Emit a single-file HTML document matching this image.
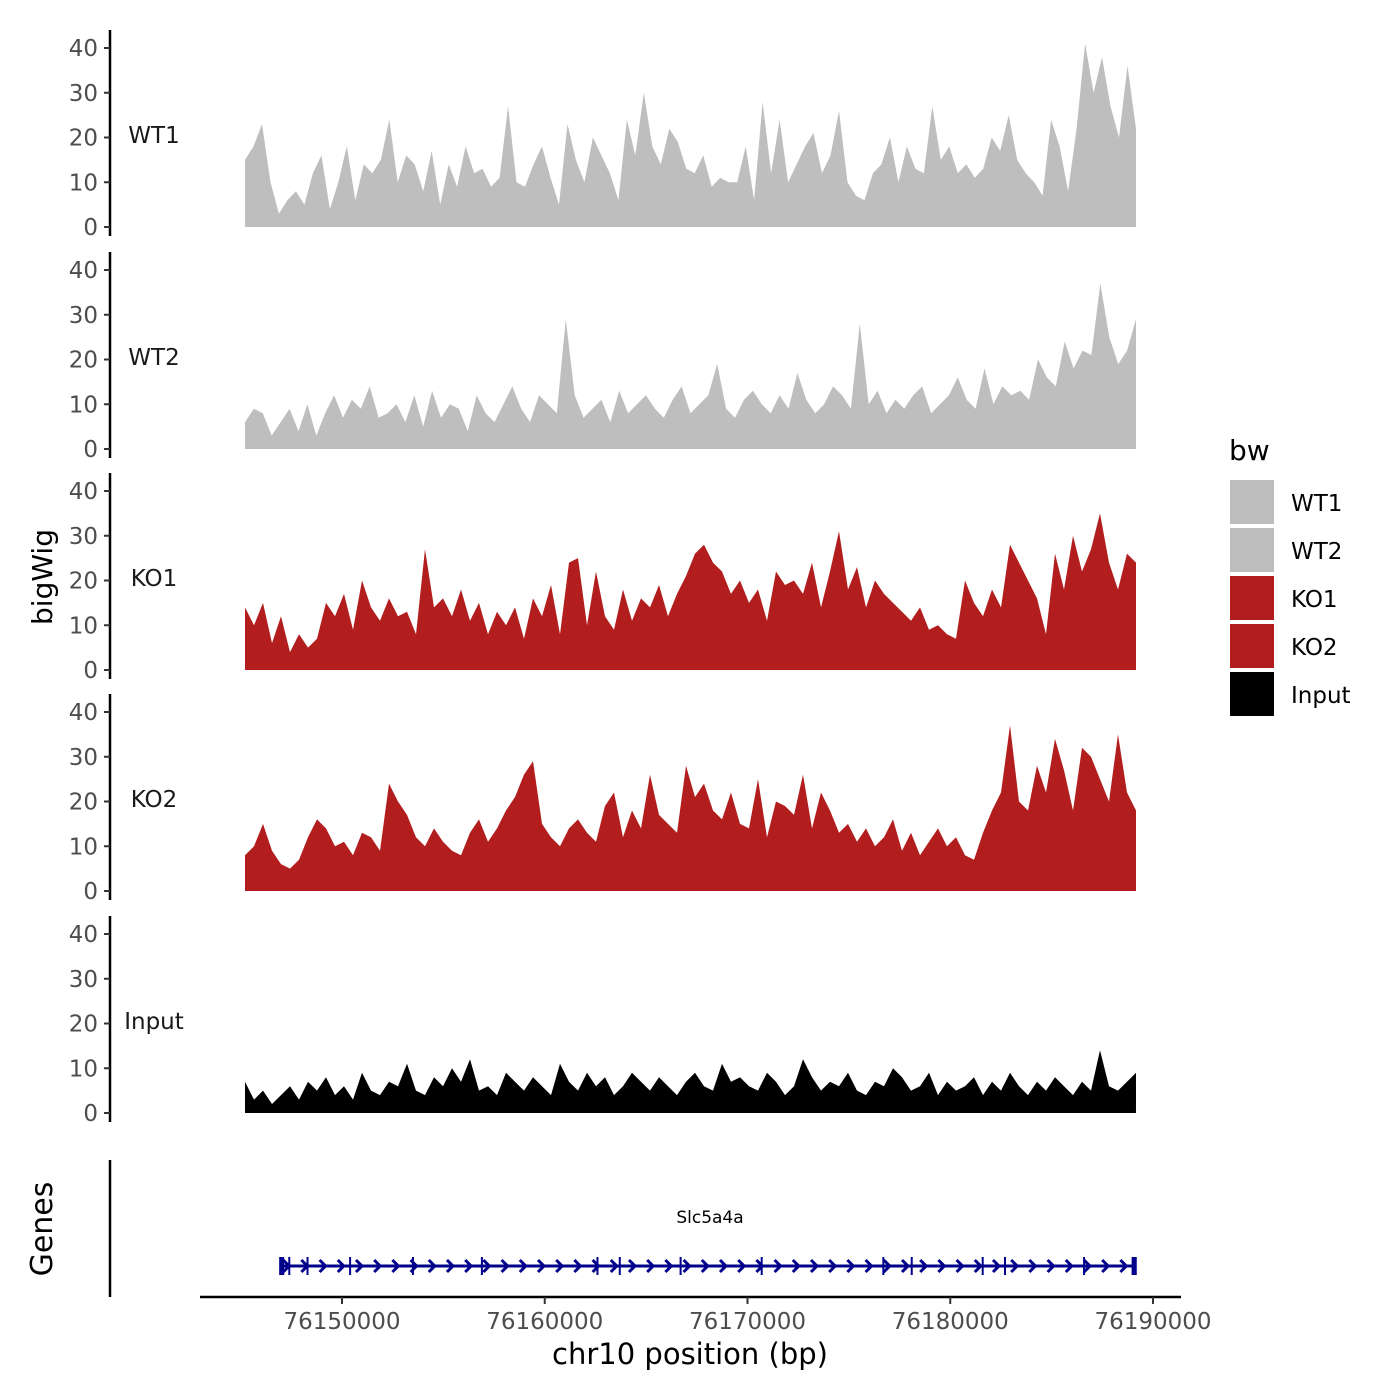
<!DOCTYPE html>
<html><head><meta charset="utf-8"><style>
body{margin:0;background:#fff;}
svg{display:block;font-family:"DejaVu Sans","Liberation Sans",sans-serif;}
</style></head><body>
<svg id="chart" width="1400" height="1400" viewBox="0 0 1400 1400" xmlns="http://www.w3.org/2000/svg">
<g id="tracks"></g>
<g id="genes"></g>
<g id="xaxis"></g>
<text x="52" y="577" font-size="28" text-anchor="middle" transform="rotate(-90 52 577)">bigWig</text>
<text x="52" y="1229" font-size="30" text-anchor="middle" transform="rotate(-90 52 1229)">Genes</text>
<text x="690" y="1364" font-size="29" text-anchor="middle">chr10 position (bp)</text>
<g id="legend"><text x="1229" y="460" font-size="28">bw</text></g>
</svg>
<script>
const trackNames = ["WT1","WT2","KO1","KO2","Input"];
const trackColors = ["#bebebe","#bebebe","#b21e1e","#b21e1e","#000000"];
const yTicks = [0,10,20,30,40];
const xTicks = [76150000,76160000,76170000,76180000,76190000];
const startBp = 76145216, endBp = 76189161;
const wt1 = [15,18,23,10,3,6,8,5,12,16,4,10,18,6,14,12,15,24,10,16,14,8,17,5,14,9,18,12,13,9,11,27,10,9,14,18,11,5,23,15,10,20,16,12,6,24,16,30,18,14,22,19,13,12,16,9,11,10,10,18,6,28,12,24,10,14,18,21,12,16,26,10,7,6,12,14,20,10,18,13,12,27,15,18,12,14,11,13,20,17,25,15,12,10,7,24,18,8,22,41,30,38,27,20,36,22];
const wt2 = [6,9,8,3,6,9,4,10,3,8,12,7,11,9,14,7,8,10,6,12,5,13,7,10,9,4,12,8,6,10,14,9,6,12,10,8,29,12,7,9,11,6,13,8,10,12,9,7,11,14,8,10,12,19,9,7,11,13,10,8,12,9,17,11,8,10,14,12,9,28,10,13,8,11,9,12,14,8,10,12,16,11,9,18,10,14,12,13,11,20,16,14,24,18,22,21,37,25,19,22,29];
const ko1 = [14,10,15,6,12,4,8,5,7,15,12,17,9,20,14,11,16,12,13,8,27,14,16,12,18,11,15,8,13,10,14,7,16,12,19,8,24,25,10,22,12,9,18,11,16,14,19,12,17,21,26,28,24,22,17,20,15,18,11,22,19,20,17,24,14,22,31,18,23,14,20,17,15,13,11,14,9,10,8,7,20,15,12,18,14,28,24,20,16,8,26,18,30,22,27,35,24,18,26,24];
const ko2 = [8,10,15,9,6,5,7,12,16,14,10,11,8,13,12,9,24,20,17,12,10,14,11,9,8,13,16,11,14,18,21,26,29,15,12,10,14,16,13,11,19,22,12,18,14,26,17,15,13,28,21,24,18,16,22,15,14,25,12,20,19,17,26,14,22,18,13,15,11,14,10,12,16,9,13,8,11,14,10,12,8,7,13,18,22,37,20,18,28,22,34,27,18,32,30,25,20,35,22,18];
const inputv = [7,3,5,2,4,6,3,7,5,8,4,6,3,9,5,4,7,6,11,5,4,8,6,10,7,12,5,6,4,9,7,5,8,6,4,11,7,5,9,6,8,4,6,9,7,5,8,6,4,7,9,6,5,11,7,8,6,5,9,7,4,6,12,8,5,7,6,9,5,4,7,6,10,8,5,6,9,4,7,5,6,8,4,7,5,9,6,4,7,5,8,6,4,7,5,14,6,5,7,9];
const allData = [wt1,wt2,ko1,ko2,inputv];
const geneStart = 76147000, geneEnd = 76189100;
const exons = [76147400,76148300,76150400,76153500,76156900,76162600,76163700,76166700,76170700,76176700,76178100,76181600,76182700,76186600,76189000];

const NS="http://www.w3.org/2000/svg";
function mk(tag, attrs, parent){const e=document.createElementNS(NS,tag);for(const k in attrs)e.setAttribute(k,attrs[k]);parent.appendChild(e);return e;}
function xScale(bp){return 342+(bp-76150000)*202.75/10000;}
const zeroY=[227,449,670,891,1113];
function yScale(t,v){return zeroY[t]-v*4.475;}

const tracks=document.getElementById('tracks');
trackNames.forEach((nm,t)=>{
  const g=mk('g',{},tracks);
  
  
  const axis=mk('line',{x1:110,x2:110,y1:zeroY[t]-197,y2:zeroY[t]+9,stroke:'#000','stroke-width':2.5},g);
  
  
  yTicks.forEach(v=>{
    const y=yScale(t,v);
    mk('line',{x1:104,x2:110,y1:y,y2:y,stroke:'#333','stroke-width':2},g);
    const tx=mk('text',{x:98,y:y+8,'font-size':23,'text-anchor':'end',fill:'#4d4d4d'},g);
    tx.textContent=v;
    
    
  });
  const lb=mk('text',{x:154,y:zeroY[t]-84,'font-size':23,'text-anchor':'middle',fill:'#1a1a1a'},g);
  lb.textContent=nm;
  
  
  const d=allData[t];const n=d.length;
  let p='M'+xScale(startBp)+','+zeroY[t];
  d.forEach((v,i)=>{const x=xScale(startBp+(endBp-startBp)*i/(n-1));p+=' L'+x.toFixed(1)+','+yScale(t,v).toFixed(1);});
  p+=' L'+xScale(endBp)+','+zeroY[t]+' Z';
  const a=mk('path',{d:p,fill:trackColors[t]},g);
  
  
});

const gg=document.getElementById('genes');
mk('line',{x1:110,x2:110,y1:1160,y2:1297,stroke:'#000','stroke-width':2.5},gg);
const gy=1266, gx1=xScale(geneStart), gx2=xScale(geneEnd);
const gl=mk('line',{x1:gx1,x2:gx2,y1:gy,y2:gy,stroke:'#00008b','stroke-width':3},gg);


for(let x=gx1+6;x<gx2;x+=18.2){mk('path',{d:`M${x-4},${gy-6} L${x+2},${gy} L${x-4},${gy+6}`,fill:'none',stroke:'#00008b','stroke-width':3},gg);}
exons.forEach(b=>{const x=xScale(b);mk('line',{x1:x,x2:x,y1:gy-9,y2:gy+9,stroke:'#00008b','stroke-width':2},gg);});
mk('rect',{x:gx1-2,y:gy-9,width:5,height:18,fill:'#00008b'},gg);
mk('rect',{x:gx2-3,y:gy-9,width:5,height:18,fill:'#00008b'},gg);
const gt=mk('text',{x:710,y:1223,'font-size':17,'text-anchor':'middle'},gg);
gt.textContent='Slc5a4a';



const xa=document.getElementById('xaxis');
mk('line',{x1:200,x2:1181,y1:1297,y2:1297,stroke:'#000','stroke-width':2.5},xa);
xTicks.forEach(b=>{const x=xScale(b);mk('line',{x1:x,x2:x,y1:1297,y2:1304,stroke:'#333','stroke-width':2},xa);
  const t=mk('text',{x:x,y:1329,'font-size':23,'text-anchor':'middle',fill:'#4d4d4d'},xa);t.textContent=b;
  
  });

const lg=document.getElementById('legend');
trackNames.forEach((nm,i)=>{
  const y=480+i*48;
  const r=mk('rect',{x:1230,y:y,width:44,height:44,fill:trackColors[i]},lg);
  
  
  const t=mk('text',{x:1291,y:y+31,'font-size':23},lg);t.textContent=nm;
  
  
});
</script>
</body></html>
